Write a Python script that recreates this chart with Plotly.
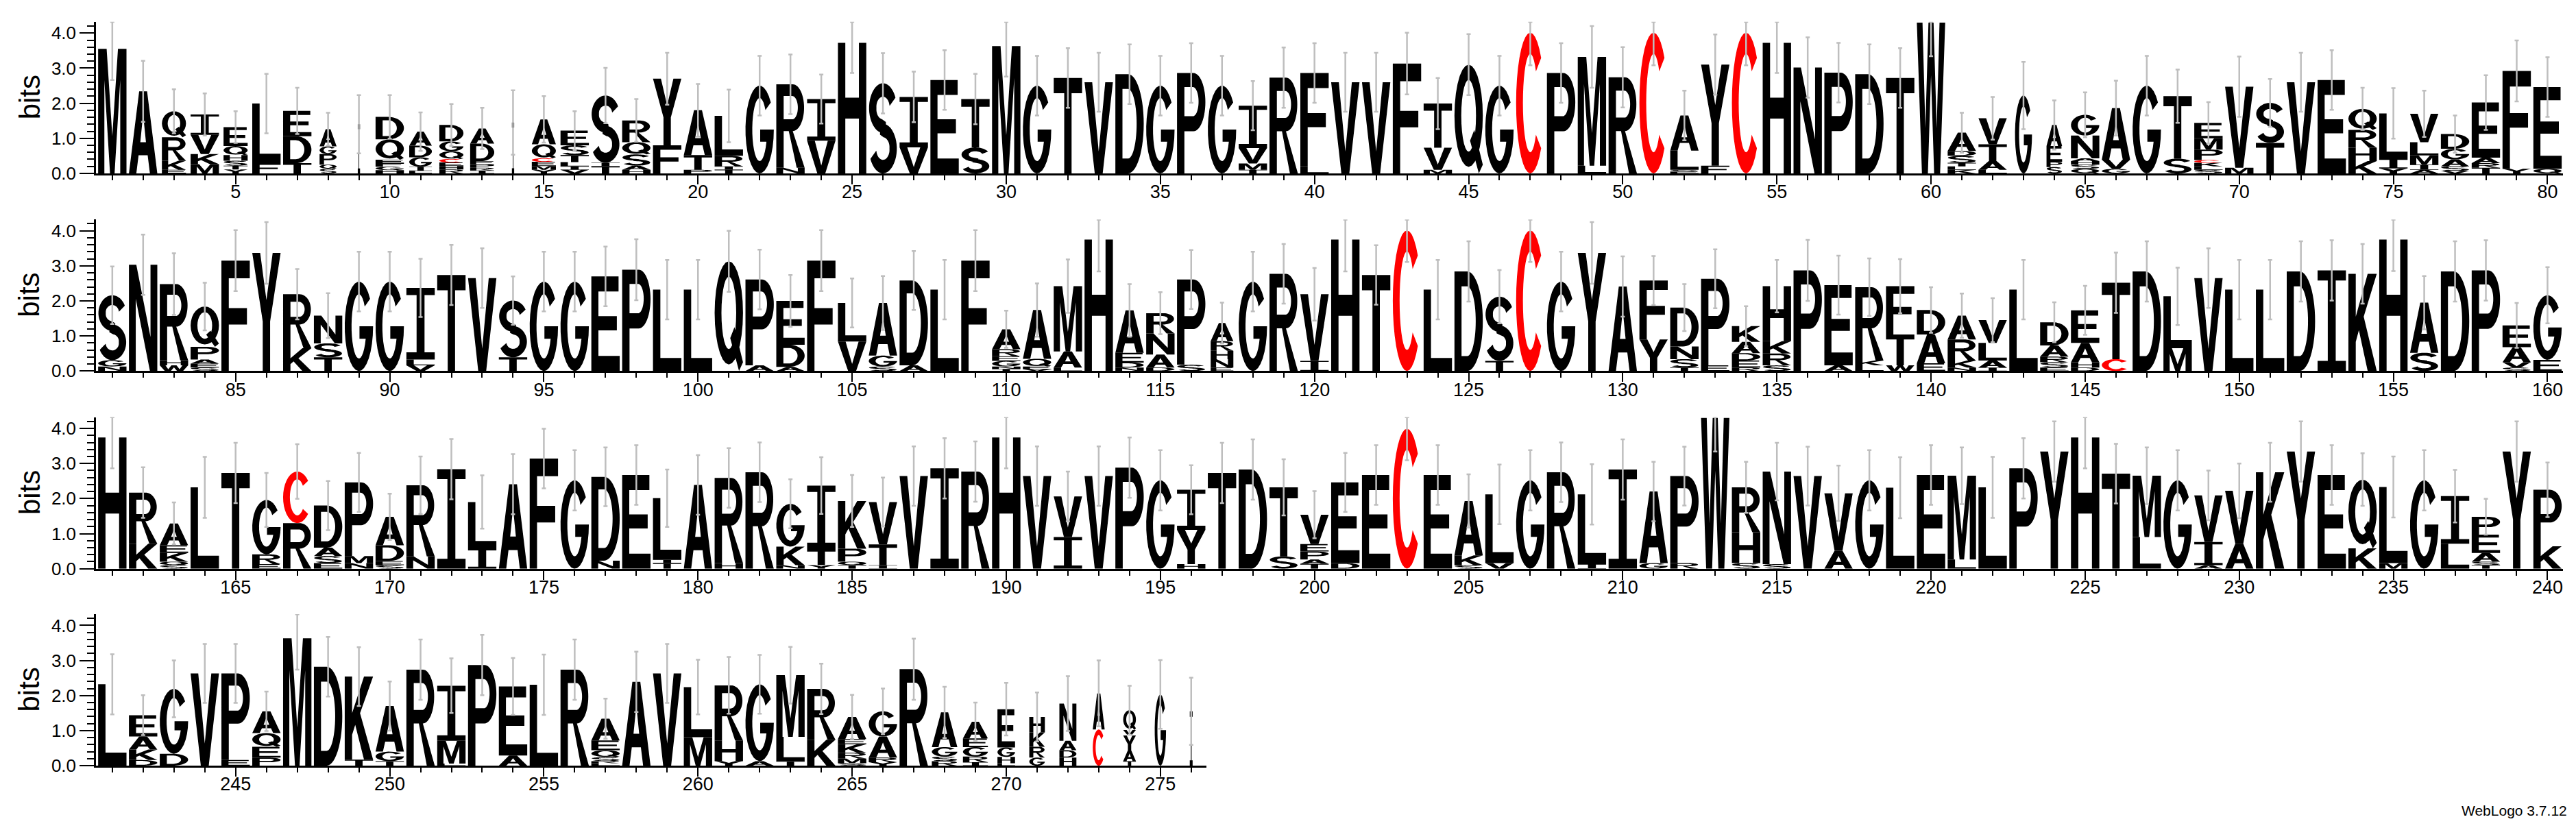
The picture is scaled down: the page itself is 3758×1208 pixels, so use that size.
import math
import plotly.graph_objects as go

ROW_STARTS = [1, 81, 161, 241]
ROW_ENDS = [80, 160, 240, 276]

# each stack: letters bottom -> top, letter followed by its height in bits
ROW1_STACKS = [
    "M3.55", "A2.34", "E.10 K.26 R.67 Q.74", "M.26 K.29 V.55 I.58", "Y.11 T.11 S.14 H.16 Q.26 E.54",
    "F.29 L1.70", "T.29 D.77 E.72", "S.13 Q.12 P.30 G.22 A.49", "I1.40", "H.09 G.10 F.10 E.10 Q.58 D.64",
    "L.07 I.12 G.27 D.33 A.40", "R.11 H.10 E.10 C.10 Q.22 G.28 D.47", "I.08 R.08 P.10 E.09 D.50 A.43", "I1.45", "Y.10 M.11 E.12 C.10 Q.40 A.71",
    "V.10 I.10 L.12 T.20 S.28 E.42", "T.20 I.10 S1.92", "H.10 A.12 S.32 Q.35 R.62", "F.80 Y1.90", "P.10 T.42 A1.28",
    "T.10 I.10 R.30 L1.14", "G2.50", "N.16 R2.38", "V.93 I1.19", "H3.72",
    "S2.57", "V.74 I1.44", "E2.66", "S.74 T1.38", "M3.63",
    "G2.50", "T2.72", "V2.60", "D2.83", "G2.50",
    "P2.86", "G2.50", "T.10 M.18 V.44 I1.21", "R2.73", "L.20 F2.66",
    "V2.60", "V2.60", "F3.13", "M.10 V.63 T1.26", "Q3.10",
    "G2.50", "C4.01", "P2.86", "L.22 M3.10", "R2.74",
    "C4.01", "E.05 S.05 L.55 A1.00", "F.22 Y2.88", "C4.01", "H3.72",
    "N3.02", "P2.87", "D2.83", "T2.72", "W4.30",
    "K.10 L.10 T.10 S.20 D.14 A.52", "L.10 A.25 T.48 V.74", "G2.22", "S.18 P.15 E.45 A.60", "Q.13 S.12 H.10 A.08 N.65 G.59",
    "G.13 V.26 A1.47", "G2.50", "S.42 T1.78", "S.10 L.10 K.10 C.08 P.30 M.32 E.44", "M.16 V2.31",
    "T.87 S1.14", "V2.60", "E2.66", "K.35 H.38 R.51 Q.60", "Y.14 I.27 L1.30",
    "A.10 I.15 M.26 L.38 V.81", "V.07 S.13 A.20 G.30 D.42", "T.16 R.13 A.16 E1.57", "Y.13 F2.79", "Q.13 E2.33",
]
ROW2_STACKS = [
    "N.13 G.18 S1.85", "N3.03", "W.16 H.15 R2.17", "S.10 E.11 A.12 P.36 Q1.15", "F3.15",
    "Y3.37", "K.65 R1.54", "T.39 S.40 N.79", "G2.55", "G2.55",
    "V.16 L.17 I2.04", "T2.74", "V2.65", "T.39 S1.62", "G2.55",
    "G2.55", "E2.70", "P2.89", "L2.32", "L2.32",
    "Q3.13", "A.16 P2.45", "A.12 D.63 E1.25", "F3.15", "V.84 L1.10",
    "S.13 G.31 A1.50", "A.16 D2.42", "L2.32", "F3.15", "T.06 N.07 G.16 E.13 R.20 A.57",
    "V.05 E.08 Q.22 A1.39", "L.10 A.46 M1.86", "H3.75", "N.10 D.14 E.28 A1.21", "D.10 A.37 N.60 R.58",
    "S.18 P2.43", "E.10 N.24 H.24 R.27 A.52", "G2.55", "R2.77", "I.29 V1.90",
    "H3.75", "T2.74", "C4.01", "L2.32", "D2.84",
    "T.29 S1.83", "C4.01", "G2.55", "Y3.37", "A2.41",
    "Y.90 F1.68", "T.10 S.24 N.36 D1.11", "E.16 P2.47", "R.10 E.20 D.21 A.32 K.45", "S.16 R.34 K.35 H1.57",
    "P2.87", "A.16 E2.29", "L.16 K.14 R2.09", "W.16 T.88 F1.38", "E.22 A.82 D.70",
    "N.10 K.20 R.60 A.68", "I.10 A.20 L.50 V.65", "L2.32", "E.10 S.15 R.16 A.32 D.66", "D.10 H.15 A.55 E.93",
    "C.34 T2.18", "D2.84", "M.65 L1.48", "V2.65", "L2.32",
    "L2.32", "D2.84", "I2.87", "K2.77", "H3.75",
    "S.52 A1.43", "D2.84", "P2.87", "S.10 V.15 A.43 E.62", "E.32 G1.84",
]
ROW3_STACKS = [
    "H3.74", "K.71 R1.46", "S.10 Q.10 K.25 E.22 A.62", "L2.32", "T2.73",
    "E.13 R.28 G1.55", "R1.30 C1.47", "E.16 S.20 A.24 D1.20", "N.16 M.20 P2.10", "S.10 E.12 D.45 A.81",
    "N.35 R2.03", "I2.84", "I.58 L1.32", "A2.41", "F3.14",
    "G2.52", "N.23 D2.39", "E2.67", "T.16 I.10 L1.75", "A2.39",
    "H.16 R2.43", "R2.75", "N.10 K.53 G1.22", "Y.10 T.46 I1.81", "T.10 Q.10 P.37 K1.36",
    "I.10 T.59 V1.21", "V2.64", "I2.86", "R2.77", "H3.74",
    "V2.64", "I.90 V1.16", "V2.64", "P2.88", "G2.52",
    "H.13 Y.98 I1.14", "T2.73", "D2.83", "S.35 T1.97", "T.14 A.12 P.23 E.21 V.84",
    "D.16 E2.30", "E2.67", "C3.99", "E2.67", "S.10 K.28 A1.55",
    "V.16 L1.96", "G2.52", "R2.75", "I.13 L1.99", "I2.83",
    "G.16 A2.04", "R.16 P2.48", "W4.30", "S.16 H.88 R1.28", "S.13 N2.64",
    "V2.64", "A.51 V1.64", "G2.52", "L2.31", "E2.67",
    "L.26 M2.39", "L2.32", "P2.86", "Y3.34", "H3.74",
    "T2.71", "L.90 M1.75", "G2.52", "A.10 I.66 V1.33", "A.71 V1.51",
    "K2.75", "Y3.34", "E2.67", "K.58 Q1.96", "M.16 L2.17",
    "G2.52", "L.71 I1.36", "T.10 S.10 A.25 E.52 P.51", "Y3.34", "K.64 P1.61",
]
ROW4_STACKS = [
    "L2.32", "D.16 K.30 A.37 E.61", "D.34 G1.85", "V2.63", "E.16 P2.47",
    "P.23 E.31 Q.39 A.62", "M3.63", "D2.82", "T.17 K2.37", "T.13 G.27 A1.30",
    "R2.74", "L.06 M.65 I1.57", "P2.87", "A.29 E1.97", "L2.31",
    "R2.74", "L.07 R.06 S.11 Q.20 E.28 A.62", "A2.39", "V2.63", "M.81 L1.43",
    "Y.13 H.59 R1.57", "A.13 G2.19", "T.13 L.69 M1.76", "K.74 R1.45", "S.07 M.13 R.17 K.24 E.15 A.63",
    "Y.10 R.13 A.60 G.72", "R2.75", "R.13 S.13 G.27 A.99", "I.10 R.16 G.27 E.25 A.47", "L.07 H.18 G.27 E1.09",
    "G.23 R.31 K.41 H.44", "H.23 D.21 A.27 N1.06", "C1.03 A1.03", "T.13 A.30 Y.43 V.16 Q.56", "G2.03",
    "I1.55",
]

# error bar half-lengths (bits)
ROW1_ERR = [.89, .87, .63, .60, .45, .85, .66, .47, .83, .62, .55, .60, .59, .92, .66, .55, .79, .61, .74, .75,
            .75, .85, .85, .70, .86, .86, .72, .85, .72, .87, .85, .85, .84, .85, .85, .85, .85, .70, .86, .85,
            .84, .84, .88, .73, .87, .85, .93, .85, .88, .86, .93, .71, .86, .93, .86, .86, .85, .85, .85, .96,
            .57, .61, .96, .70, .64, .78, .85, .76, .59, .86, .68, .84, .85, .60, .72, .66, .53, .78, .87, .85]
ROW2_ERR = [.82, .86, .88, .68, .87, .88, .72, .64, .85, .85, .83, .86, .85, .69, .85, .85, .85, .87, .85, .85,
            .87, .85, .74, .87, .70, .77, .84, .85, .87, .53, .76, .76, .91, .75, .60, .84, .58, .85, .85, .75,
            .91, .85, .90, .85, .86, .76, .90, .85, .88, .86, .70, .67, .84, .57, .75, .87, .84, .82, .77, .65,
            .63, .63, .85, .57, .70, .86, .86, .82, .85, .85, .85, .86, .86, .85, .90, .76, .86, .86, .64, .80]
ROW3_ERR = [.88, .72, .60, .87, .86, .77, .78, .70, .84, .66, .82, .86, .76, .86, .85, .86, .84, .85, .82, .85,
            .85, .85, .70, .81, .74, .70, .85, .86, .86, .88, .85, .71, .85, .86, .86, .70, .86, .86, .80, .67,
            .84, .85, .90, .85, .76, .85, .86, .85, .86, .86, .85, .84, .96, .73, .82, .84, .79, .86, .87, .85,
            .81, .87, .86, .86, .88, .85, .81, .86, .71, .78, .84, .86, .85, .75, .87, .86, .75, .51, .86, .78]
ROW4_ERR = [.86, .57, .81, .84, .84, .56, .89, .85, .84, .70, .86, .78, .86, .81, .86, .86, .57, .86, .84, .78,
            .81, .84, .81, .72, .63, .65, .87, .73, .55, .75, .70, .78, .94, .70, .98, .96]

# fraction of sequences occupying a column (stack width), where clearly below 1
OCCUPANCY = {3: .85, 5: .85, 8: .6, 9: .08, 11: .8, 12: .85, 13: .85, 14: .08, 15: .85,
             63: .6, 64: .55, 117: .8, 268: .9, 269: .88, 270: .62, 271: .55, 272: .6,
             273: .42, 274: .45, 275: .4, 276: .1}

ROW_STACKS = [ROW1_STACKS, ROW2_STACKS, ROW3_STACKS, ROW4_STACKS]
ROW_ERR = [ROW1_ERR, ROW2_ERR, ROW3_ERR, ROW4_ERR]
for s, e, a, b in zip(ROW_STACKS, ROW_ERR, ROW_STARTS, ROW_ENDS):
    assert len(s) == b - a + 1 and len(e) == b - a + 1, (a, len(s), len(e))

YMAX = math.log2(20)


# ---------------- glyph outlines in a unit box ----------------
def ell(cx, cy, rx, ry, a0, a1, n=28):
    pts = []
    for i in range(n + 1):
        a = math.radians(a0 + (a1 - a0) * i / n)
        pts.append((cx + rx * math.cos(a), cy + ry * math.sin(a)))
    return pts


def stroke(center, hx, hy):
    n = len(center)
    left, right = [], []
    for i in range(n):
        a = center[max(i - 1, 0)]
        b = center[min(i + 1, n - 1)]
        tx, ty = b[0] - a[0], b[1] - a[1]
        d = math.hypot(tx, ty) or 1.0
        nx, ny = -ty / d, tx / d
        px, py = center[i]
        left.append((px + nx * hx, py + ny * hy))
        right.append((px - nx * hx, py - ny * hy))
    return left + right[::-1]


def area(pts):
    s = 0.0
    for i in range(len(pts)):
        x1, y1 = pts[i]
        x2, y2 = pts[(i + 1) % len(pts)]
        s += x1 * y2 - x2 * y1
    return s / 2


def orient(pts, hole):
    if (area(pts) < 0) != hole:
        pts = pts[::-1]
    return pts


def G(*parts):
    return [orient(p, h) for p, h in parts]


GLYPHS = {
    "A": G(([(0, 0), (0.36, 1), (0.64, 1), (1, 0), (0.74, 0), (0.66, 0.22), (0.34, 0.22), (0.26, 0)], False),
           ([(0.40, 0.38), (0.60, 0.38), (0.5, 0.72)], True)),
    "C": G((ell(0.5, 0.5, 0.5, 0.5, 40, 320) + ell(0.5, 0.5, 0.26, 0.35, 320, 40), False)),
    "D": G(([(0, 0), (0, 1), (0.45, 1)] + ell(0.45, 0.5, 0.55, 0.5, 90, -90) + [(0.45, 0)], False),
           ([(0.25, 0.15), (0.25, 0.85), (0.45, 0.85)] + ell(0.45, 0.5, 0.3, 0.35, 90, -90) + [(0.45, 0.15)], True)),
    "E": G(([(0, 0), (0, 1), (0.96, 1), (0.96, 0.84), (0.25, 0.84), (0.25, 0.58), (0.9, 0.58), (0.9, 0.43),
             (0.25, 0.43), (0.25, 0.16), (1, 0.16), (1, 0)], False)),
    "F": G(([(0, 0), (0, 1), (1, 1), (1, 0.84), (0.26, 0.84), (0.26, 0.57), (0.9, 0.57), (0.9, 0.42),
             (0.26, 0.42), (0.26, 0)], False)),
    "G": G((ell(0.5, 0.5, 0.5, 0.5, 38, 360) + [(0.52, 0.5), (0.52, 0.36), (0.74, 0.36)]
            + ell(0.5, 0.5, 0.26, 0.36, 337.1, 38), False)),
    "H": G(([(0, 0), (0, 1), (0.26, 1), (0.26, 0.58), (0.74, 0.58), (0.74, 1), (1, 1), (1, 0), (0.74, 0),
             (0.74, 0.42), (0.26, 0.42), (0.26, 0)], False)),
    "I": G(([(0, 0), (0, 0.1), (0.36, 0.1), (0.36, 0.9), (0, 0.9), (0, 1), (1, 1), (1, 0.9), (0.64, 0.9),
             (0.64, 0.1), (1, 0.1), (1, 0)], False)),
    "K": G(([(0, 0), (0, 1), (0.26, 1), (0.26, 0.56), (0.68, 1), (1, 1), (0.54, 0.56), (1, 0), (0.68, 0),
             (0.37, 0.42), (0.26, 0.3), (0.26, 0)], False)),
    "L": G(([(0, 0), (0, 1), (0.26, 1), (0.26, 0.16), (1, 0.16), (1, 0)], False)),
    "M": G(([(0, 0), (0, 1), (0.3, 1), (0.5, 0.3), (0.7, 1), (1, 1), (1, 0), (0.78, 0), (0.78, 0.75),
             (0.58, 0), (0.42, 0), (0.22, 0.75), (0.22, 0)], False)),
    "N": G(([(0, 0), (0, 1), (0.26, 1), (0.76, 0.32), (0.76, 1), (1, 1), (1, 0), (0.74, 0), (0.24, 0.68),
             (0.24, 0)], False)),
    "P": G(([(0, 0), (0, 1), (0.58, 1)] + ell(0.58, 0.71, 0.42, 0.29, 90, -90) + [(0.58, 0.42), (0.26, 0.42), (0.26, 0)], False),
           ([(0.26, 0.57), (0.26, 0.86), (0.56, 0.86)] + ell(0.56, 0.715, 0.2, 0.145, 90, -90) + [(0.56, 0.57)], True)),
    "Q": G((ell(0.5, 0.53, 0.5, 0.47, 0, 360)[:-1], False),
           (ell(0.5, 0.53, 0.26, 0.33, 0, 360)[:-1], True),
           ([(0.55, 0.3), (0.7, 0.4), (1, 0.08), (0.86, 0)], False)),
    "R": G(([(0, 0), (0, 1), (0.58, 1)] + ell(0.58, 0.72, 0.4, 0.28, 90, -90)
            + [(0.58, 0.44), (1, 0), (0.72, 0), (0.44, 0.44), (0.26, 0.44), (0.26, 0)], False),
           ([(0.26, 0.58), (0.26, 0.86), (0.56, 0.86)] + ell(0.56, 0.72, 0.2, 0.14, 90, -90) + [(0.56, 0.58)], True)),
    "S": G((stroke(ell(0.5, 0.725, 0.36, 0.2, 20, 270, 40) + ell(0.5, 0.275, 0.36, 0.2, 90, -160, 40), 0.13, 0.075), False)),
    "T": G(([(0.37, 0), (0.37, 0.84), (0, 0.84), (0, 1), (1, 1), (1, 0.84), (0.63, 0.84), (0.63, 0)], False)),
    "V": G(([(0, 1), (0.27, 1), (0.5, 0.24), (0.73, 1), (1, 1), (0.64, 0), (0.36, 0)], False)),
    "W": G(([(0, 1), (0.2, 1), (0.3, 0.3), (0.41, 1), (0.59, 1), (0.7, 0.3), (0.8, 1), (1, 1), (0.82, 0),
             (0.61, 0), (0.5, 0.65), (0.39, 0), (0.18, 0)], False)),
    "Y": G(([(0, 1), (0.28, 1), (0.5, 0.6), (0.72, 1), (1, 1), (0.63, 0.42), (0.63, 0), (0.37, 0), (0.37, 0.42)], False)),
}


def glyph_path(ch, x0, x1, y0, y1):
    parts = []
    for pts in GLYPHS[ch]:
        seg = " L ".join(f"{x0 + u * (x1 - x0):.4f},{y0 + v * (y1 - y0):.4f}" for u, v in pts)
        parts.append("M " + seg + " Z")
    return " ".join(parts)


# ---------------- layout geometry ----------------
W, H = 3758, 1208
BASELINES = [248, 540, 832, 1123]      # pixel row of the 0-bit line
PX_PER_POS = 44.97
PX_PER_BIT = 51.8
AXIS_LEFT = 132
LETTER_W = 0.92
FONT = "Liberation Sans, Arial, Helvetica, sans-serif"

fig = go.Figure()
shapes = []
annotations = []
layout_axes = {}

for k in range(4):
    start, end = ROW_STARTS[k], ROW_ENDS[k]
    xr = [start - 0.53, end + 0.5]
    x_left = AXIS_LEFT
    x_right = AXIS_LEFT + (xr[1] - xr[0]) * PX_PER_POS
    b = BASELINES[k]
    t = b - YMAX * PX_PER_BIT
    xd = [x_left / W, x_right / W]
    yd = [(H - b) / H, (H - t) / H]
    sfx = "" if k == 0 else str(k + 1)
    xname, yname = "x" + sfx, "y" + sfx

    layout_axes["xaxis" + sfx] = dict(
        domain=xd, range=xr, anchor=yname, showline=True, linecolor="black", linewidth=3,
        showgrid=False, zeroline=False, ticks="outside", tickmode="linear", tick0=0, dtick=5,
        ticklen=13, tickwidth=2, tickcolor="black", ticklabelstandoff=-12,
        tickfont=dict(family=FONT, size=27, color="black"),
        minor=dict(ticks="outside", tickmode="linear", tick0=0, dtick=1, ticklen=7, tickwidth=2,
                   tickcolor="black", showgrid=False),
        fixedrange=True)
    layout_axes["yaxis" + sfx] = dict(
        domain=yd, range=[0, YMAX], anchor=xname, showline=True, linecolor="black", linewidth=2.5,
        showgrid=False, zeroline=False, ticks="outside", tickmode="linear", tick0=0, dtick=1,
        tickformat=".1f", ticklen=21, tickwidth=2, tickcolor="black",
        tickfont=dict(family=FONT, size=26, color="black"),
        minor=dict(ticks="outside", tickmode="linear", tick0=0, dtick=0.2, ticklen=10, tickwidth=2,
                   tickcolor="black", showgrid=False),
        fixedrange=True)

    annotations.append(dict(text="bits", xref="paper", yref="paper", x=35 / W, y=(yd[0] + yd[1]) / 2,
                            xanchor="center", yanchor="middle", textangle=-90, showarrow=False,
                            font=dict(family=FONT, size=42, color="black")))

    xs, tops, plus, minus = [], [], [], []
    for i, stack in enumerate(ROW_STACKS[k]):
        pos = start + i
        half = LETTER_W * OCCUPANCY.get(pos, 1.0) / 2
        y0 = 0.0
        for tok in stack.split():
            ch, h = tok[0], float(tok[1:])
            shapes.append(dict(type="path", path=glyph_path(ch, pos - half, pos + half, y0, y0 + h),
                               xref=xname, yref=yname, fillcolor="#FF0000" if ch == "C" else "#000000",
                               line=dict(width=0), layer="below", fillrule="nonzero"))
            y0 += h
        e = ROW_ERR[k][i]
        xs.append(pos)
        tops.append(y0)
        plus.append(max(0.0, min(e, YMAX - y0 - 0.005)))
        minus.append(min(e, y0))

    fig.add_trace(go.Scatter(
        x=xs, y=tops, mode="markers", xaxis=xname, yaxis=yname, hoverinfo="skip", showlegend=False,
        marker=dict(size=2, color="rgba(0,0,0,0)"),
        error_y=dict(type="data", symmetric=False, array=plus, arrayminus=minus,
                     color="#BEBEBE", thickness=2.5, width=3)))

annotations.append(dict(text="WebLogo 3.7.12", xref="paper", yref="paper", x=3660 / W, y=(H - 1189) / H,
                        xanchor="center", yanchor="middle", showarrow=False,
                        font=dict(family=FONT, size=21, color="black")))

fig.update_layout(width=W, height=H, autosize=False, margin=dict(l=0, r=0, t=0, b=0),
                  paper_bgcolor="white", plot_bgcolor="white", showlegend=False, hovermode=False,
                  shapes=shapes, annotations=annotations, **layout_axes)

fig.write_html("out.html", config={"displayModeBar": False})
